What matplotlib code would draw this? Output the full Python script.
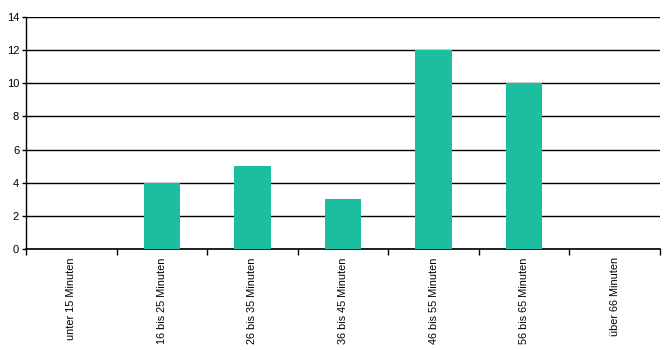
import matplotlib.pyplot as plt
import numpy as np

categories = ['unter 15 Minuten', '16 bis 25 Minuten', '26 bis 35 Minuten',
              '36 bis 45 Minuten', '46 bis 55 Minuten', '56 bis 65 Minuten',
              'über 66 Minuten']
values = [0, 4, 5, 3, 12, 10, 0]
yticks = [0, 2, 4, 6, 8, 10, 12, 14]

plt.rcParams['font.family'] = ['Liberation Sans', 'DejaVu Sans']

fig = plt.figure(figsize=(6.7, 3.5), dpi=100)
ax = fig.add_axes([0.039, 0.289, 0.946, 0.662])

x = np.arange(len(categories))
ax.bar(x, values, width=0.4, color='#1BBE9E', zorder=3)

ax.set_xlim(-0.5, len(categories) - 0.5)
ax.set_ylim(0, 14)
ax.set_yticks(yticks)
ax.set_yticklabels([str(t) for t in yticks], fontsize=8)
ax.yaxis.grid(True, color='black', linewidth=1)
ax.set_axisbelow(True)

# category labels centred, tick marks at the boundaries
ax.set_xticks(x)
ax.set_xticklabels(categories, rotation=90, fontsize=7.8, va='top')
ax.tick_params(axis='x', which='major', length=0, pad=6)
ax.set_xticks(np.arange(-0.5, len(categories)), minor=True)
ax.tick_params(axis='x', which='minor', length=4, width=1, direction='out')
ax.tick_params(axis='y', length=3, width=1, pad=2)

for side in ['top', 'right']:
    ax.spines[side].set_visible(False)
ax.spines['left'].set_linewidth(1)
ax.spines['bottom'].set_linewidth(1.2)

plt.savefig('out.png', dpi=100)
